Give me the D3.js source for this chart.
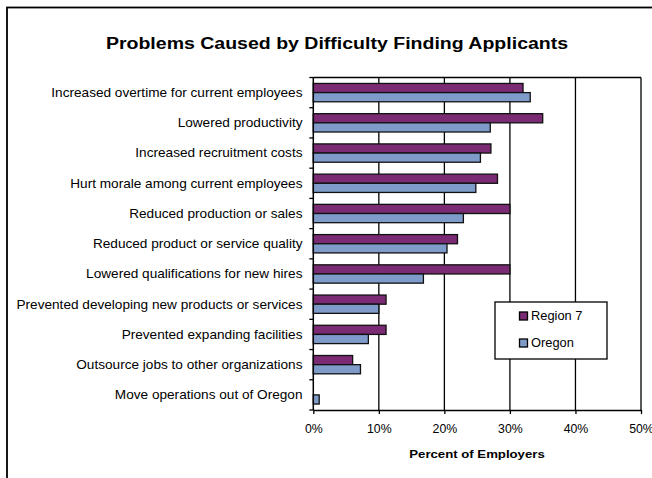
<!DOCTYPE html>
<html><head><meta charset="utf-8">
<script src="https://cdn.jsdelivr.net/npm/d3@7"></script>
<style>body{margin:0;background:#fff}svg{display:block;font-family:"Liberation Sans",Arial,sans-serif}</style>
</head><body>
<svg id="c" width="652" height="478"></svg>
<script>
const categories = [
  "Increased overtime for current employees",
  "Lowered productivity",
  "Increased recruitment costs",
  "Hurt morale among current employees",
  "Reduced production or sales",
  "Reduced product or service quality",
  "Lowered qualifications for new hires",
  "Prevented developing new products or services",
  "Prevented expanding facilities",
  "Outsource jobs to other organizations",
  "Move operations out of Oregon"
];
const region7 = [32, 35, 27.1, 28.1, 30, 22, 30, 11.1, 11.1, 6, 0];
const oregon = [33.1, 27, 25.5, 24.8, 22.9, 20.4, 16.8, 10, 8.4, 7.2, 0.9];
const seriesNames = ["Region 7", "Oregon"];
const xTicks = [0, 10, 20, 30, 40, 50];
const colors = ["#7b2b73", "#7f9bc9"];

const svg = d3.select("#c");
// outer frame
svg.append("rect").attr("x", 7).attr("y", 7.5).attr("width", 700).attr("height", 520)
  .attr("fill", "none").attr("stroke", "#000").attr("stroke-width", 1.8);

const L = 313.3, R = 641, T = 77.5, B = 410;
const x = d3.scaleLinear().domain([0, 50]).range([L, R]);
const y = d3.scaleBand().domain(categories).range([T, B]);
const sub = d3.scaleBand().domain(seriesNames).range([0, y.bandwidth()]).paddingOuter(0.65).paddingInner(0);

// stretched text helper
function stext(g, tx, ty, sx, str, size, anchor, weight) {
  const t = g.append("g").attr("transform", `translate(${tx},${ty}) scale(${sx},1)`)
    .append("text").attr("text-anchor", anchor).attr("font-size", size).attr("fill", "#000")
    .attr("dy", "0.35em").text(str);
  if (weight) t.attr("font-weight", weight);
  return t;
}

// gridlines
svg.append("g").selectAll("line").data(xTicks.slice(1)).join("line")
  .attr("x1", d => x(d)).attr("x2", d => x(d)).attr("y1", T).attr("y2", B)
  .attr("stroke", "#000").attr("stroke-width", 1.3);
svg.append("line").attr("x1", L).attr("x2", R).attr("y1", T).attr("y2", T)
  .attr("stroke", "#000").attr("stroke-width", 1.3);

// bars
const series = [region7, oregon];
series.forEach((vals, si) => {
  svg.append("g").selectAll("rect").data(categories).join("rect")
    .attr("x", x(0))
    .attr("y", c => y(c) + sub(seriesNames[si]))
    .attr("width", (c, i) => Math.max(0, x(vals[i]) - x(0)))
    .attr("height", sub.bandwidth())
    .attr("fill", colors[si])
    .attr("stroke", (c, i) => vals[i] > 0 ? "#111" : "none")
    .attr("stroke-width", 1.3);
});

// x axis
const xAxis = d3.axisBottom(x).tickValues(xTicks).tickFormat(d => d + "%").tickSize(4).tickSizeOuter(0);
const gx = svg.append("g").attr("transform", `translate(0,${B})`).call(xAxis);
gx.select(".domain").attr("stroke-width", 1.5);
gx.selectAll(".tick line").attr("stroke-width", 1.3);
gx.selectAll("text").attr("font-size", 12.3).attr("fill", "#000").attr("dy", "1.3em")
  .attr("font-family", "Liberation Sans, Arial, sans-serif");

// y axis: ticks at category boundaries
svg.append("line").attr("x1", L).attr("x2", L).attr("y1", T).attr("y2", B)
  .attr("stroke", "#000").attr("stroke-width", 1.5);
const bounds = categories.map(c => y(c)).concat([B]);
svg.append("g").selectAll("line").data(bounds).join("line")
  .attr("x1", L - 4).attr("x2", L).attr("y1", d => d).attr("y2", d => d)
  .attr("stroke", "#000").attr("stroke-width", 1.3);
const gl = svg.append("g");
categories.forEach(c => stext(gl, 302.5, y(c) + y.bandwidth() / 2, 1.09, c, 12.5, "end"));

// title
stext(svg, 337, 43, 1.148, "Problems Caused by Difficulty Finding Applicants", 17, "middle", "bold");
// x title
stext(svg, 477, 454, 1.2, "Percent of Employers", 11, "middle", "bold");

// legend
const lg = svg.append("g");
lg.append("rect").attr("x", 495).attr("y", 302).attr("width", 112).attr("height", 57)
  .attr("fill", "#fff").attr("stroke", "#000").attr("stroke-width", 1.3);
seriesNames.forEach((n, i) => {
  const yy = 316 + i * 27;
  lg.append("rect").attr("x", 519.5).attr("y", yy - 4).attr("width", 8).attr("height", 8)
    .attr("fill", colors[i]).attr("stroke", "#000").attr("stroke-width", 1.3);
  stext(lg, 531, yy, 1.03, n, 12.5, "start");
});
</script>
</body></html>
